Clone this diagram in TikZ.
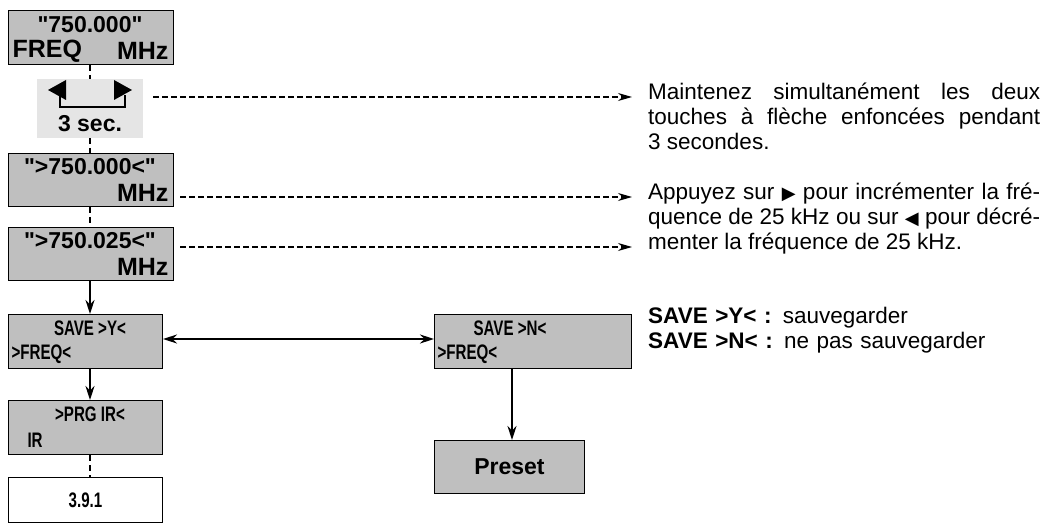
\documentclass[tikz,border=0pt]{standalone}
\usepackage{fontspec}
\setmainfont{Liberation Sans}
\usetikzlibrary{arrows.meta}
\newcommand{\q}{\textquotedbl}
\begin{document}
\begin{tikzpicture}[x=1pt,y=-1pt,
  box/.style={draw, line width=1pt, fill=black!25, minimum width=#1, minimum height=54pt, inner sep=0pt},
  lbl/.style={font=\fontsize{23}{23}\selectfont\bfseries},
  big/.style={font=\fontsize{25}{25}\selectfont\bfseries},
  nar/.style={font=\fontsize{21}{21}\selectfont\bfseries\addfontfeatures{FakeStretch=0.72}},
  dsh/.style={dashed, dash pattern=on 6pt off 3pt, line width=1.2pt, -{Stealth[length=14pt,width=8pt]}},
  vd/.style={line width=2pt, dash pattern=on 6pt off 4pt},
  sol/.style={line width=1.8pt, -{Stealth[length=14pt,width=9pt]}},
  txt/.style={font=\fontsize{22.5}{25}\selectfont, text width=392pt, align=justify, anchor=north west, inner sep=0pt}]
\useasboundingbox (0,0) rectangle (1048,526);
% boxes
\node[box=165pt, anchor=north west] (b1) at (8,10) {};
\node[lbl] at (90,25) {\q750.000\q};
\node[big, anchor=west] at (9,51) {FREQ};
\node[big, anchor=east] at (172,51) {MHz};
\node[fill=black!10, minimum width=106pt, minimum height=59pt, inner sep=0pt, anchor=north west] (g) at (37,79) {};
\fill (48,90) -- (66,80) -- (66,100) -- cycle;
\fill (132,90) -- (114,80) -- (114,100) -- cycle;
\draw[line width=1.5pt] (60,95) -- (60,107) -- (125,107) -- (125,95);
\node[lbl] at (90,124) {3 sec.};
\node[box=165pt, minimum height=53pt, anchor=north west] (b2) at (8,153) {};
\node[lbl] at (90,167) {\q>750.000<\q};
\node[big, anchor=east] at (172,193) {MHz};
\node[box=165pt, minimum height=53pt, anchor=north west] (b3) at (8,227) {};
\node[lbl] at (90,241) {\q>750.025<\q};
\node[big, anchor=east] at (172,267) {MHz};
\node[box=154pt, anchor=north west] (sy) at (8,314) {};
\node[nar] at (90,328) {SAVE >Y<};
\node[nar, anchor=west] at (8,354) {>FREQ<};
\node[box=154pt, anchor=north west] (pr) at (8,400) {};
\node[nar] at (90,414) {>PRG IR<};
\node[nar, anchor=west] at (24,440) {IR};
\node[box=154pt, minimum height=45pt, fill=white, anchor=north west] (r) at (8,477) {};
\node[nar] at (r.center) {3.9.1};
\node[box=197pt, anchor=north west] (sn) at (434,314) {};
\node[nar] at (510,328) {SAVE >N<};
\node[nar, anchor=west] at (434,354) {>FREQ<};
\node[box=150pt, minimum height=53pt, anchor=north west] (ps) at (434,440) {};
\node[lbl] at (ps.center) {Preset};
% connectors
\draw[vd] (b1.south -| 90,0) -- (g.north -| 90,0);
\draw[vd] (g.south -| 90,0) -- (b2.north -| 90,0);
\draw[vd] (b2.south -| 90,0) -- (b3.north -| 90,0);
\draw[sol] (b3.south -| 90,0) -- (sy.north -| 90,0);
\draw[sol] (sy.south -| 90,0) -- (pr.north -| 90,0);
\draw[vd] (pr.south -| 90,0) -- (r.north -| 90,0);
\draw[sol, {Stealth[length=14pt,width=9pt]}-{Stealth[length=14pt,width=9pt]}] (sy.east |- 0,339) -- (sn.west |- 0,339);
\draw[sol] (sn.south -| 512,0) -- (ps.north -| 512,0);
\coordinate (t1) at (632,97);
\coordinate (t2) at (632,197);
\coordinate (t3) at (632,247);
\draw[dsh] (153,97) -- (t1);
\draw[dsh] (180,197) -- (t2);
\draw[dsh] (180,247) -- (t3);
% texts
\node[txt] at (648,83) {Maintenez simultanément les deux touches à flèche enfoncées pendant 3 secondes.};
\node[txt] at (648,183) {Appuyez sur {\fontspec{DejaVu Sans}\fontsize{18}{25}\selectfont ▶} pour incrémenter la fré\-quence de 25 kHz ou sur {\fontspec{DejaVu Sans}\fontsize{18}{25}\selectfont ◀} pour décré\-menter la fréquence de 25 kHz.};
\node[txt, align=left] at (648,307) {\textbf{SAVE >Y< :} sauvegarder\\\textbf{SAVE >N< :} ne pas sauvegarder};
\end{tikzpicture}
\end{document}
